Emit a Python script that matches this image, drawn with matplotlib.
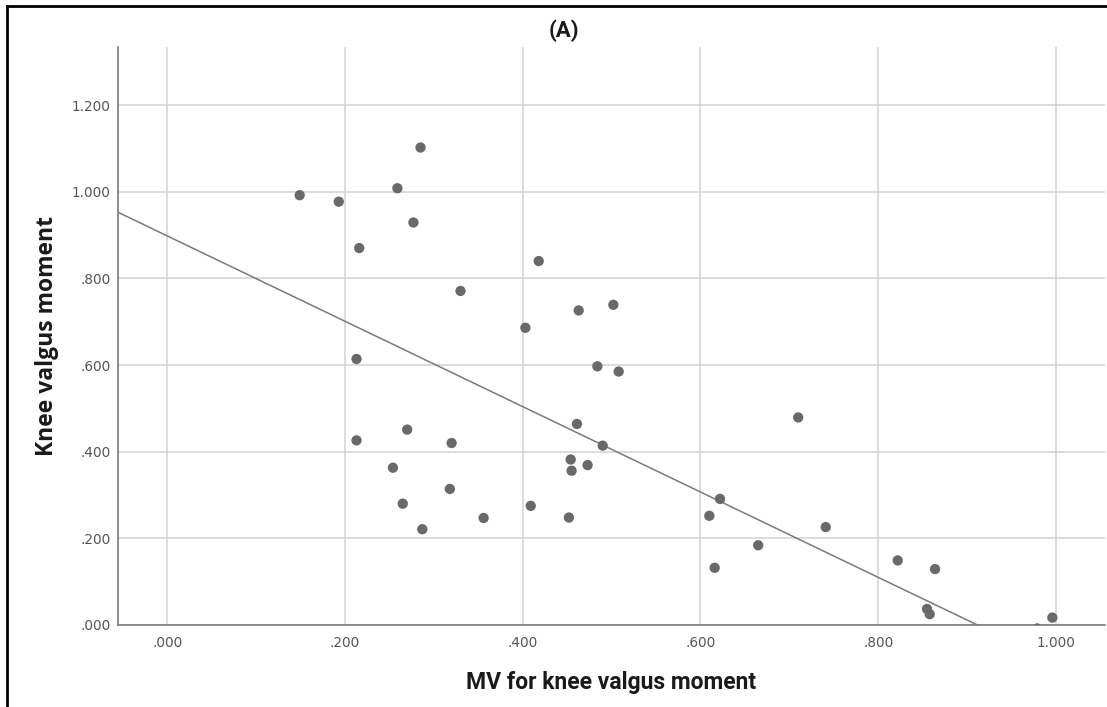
import numpy as np
import matplotlib
matplotlib.use("Agg")
from matplotlib import pyplot as plt
from matplotlib.lines import Line2D

# MV for knee valgus moment (x) vs knee valgus moment (y)
mv_knee = [0.149, 0.193, 0.259, 0.277, 0.216, 0.330, 0.285, 0.213, 0.403, 0.484,
           0.508, 0.461, 0.490, 0.213, 0.270, 0.320, 0.254, 0.454, 0.455, 0.473,
           0.318, 0.265, 0.409, 0.356, 0.452, 0.287, 0.418, 0.463, 0.502, 0.710,
           0.622, 0.610, 0.665, 0.741, 0.616, 0.822, 0.864, 0.855, 0.858, 0.996,
           0.979]
knee_moment = [0.992, 0.977, 1.008, 0.929, 0.870, 0.771, 1.102, 0.614, 0.686, 0.597,
               0.585, 0.464, 0.414, 0.426, 0.451, 0.420, 0.363, 0.382, 0.356, 0.369,
               0.314, 0.280, 0.275, 0.247, 0.248, 0.221, 0.840, 0.726, 0.739, 0.479,
               0.291, 0.252, 0.184, 0.226, 0.132, 0.149, 0.129, 0.037, 0.025, 0.017,
               -0.008]

# fit line as reported (total sample)
fit_intercept = 0.898
fit_slope = -0.985

x_ticks = [0.0, 0.2, 0.4, 0.6, 0.8, 1.0]
y_ticks = [0.0, 0.2, 0.4, 0.6, 0.8, 1.0, 1.2]

def spss_fmt(v):
    s = "%.3f" % v
    return s[1:] if s.startswith("0") else s

fig = plt.figure(figsize=(11.07, 7.07), dpi=100)
ax = fig.add_axes([0.1063, 0.116, 0.892, 0.8175])

ax.set_xlim(-0.0558, 1.0554)
ax.set_ylim(0, 1.334)
ax.grid(True, color="#d2d2d2", linewidth=1.1)
ax.set_axisbelow(True)

ax.scatter(mv_knee, knee_moment, s=55, color="#696969", edgecolors="none", zorder=3)

xs = np.array(ax.get_xlim())
ax.plot(xs, fit_intercept + fit_slope * xs, color="#7a7a7a", linewidth=1.1, zorder=2)

for side in ("top", "right"):
    ax.spines[side].set_visible(False)
for side in ("left", "bottom"):
    ax.spines[side].set_color("#7a7a7a")
    ax.spines[side].set_linewidth(1.2)

ax.set_xticks(x_ticks)
ax.set_xticklabels([spss_fmt(v) for v in x_ticks], fontsize=9.8, color="#555555")
ax.set_yticks(y_ticks)
ax.set_yticklabels([spss_fmt(v) for v in y_ticks], fontsize=9.8, color="#555555")
ax.tick_params(axis="both", length=0)
ax.tick_params(axis="x", pad=8)
ax.tick_params(axis="y", pad=5)

ax.set_xlabel("MV for knee valgus moment", family="Roboto", fontsize=16.5,
              fontweight="bold", color="#1a1a1a", labelpad=15)
ax.set_ylabel("Knee valgus moment", family="Open Sans", fontsize=16.5,
              fontweight="bold", color="#1a1a1a", labelpad=9)
fig.text(0.509, 0.957, "(A)", family="Roboto", fontsize=16,
         fontweight="bold", color="#1a1a1a", ha="center", va="center")

# frame edges on the left and top
fig.add_artist(Line2D([0.006, 0.006], [0, 0.991], transform=fig.transFigure,
                      color="black", linewidth=2))
fig.add_artist(Line2D([0.006, 1.0], [0.991, 0.991], transform=fig.transFigure,
                      color="black", linewidth=2))

fig.savefig("out.png", dpi=100)
